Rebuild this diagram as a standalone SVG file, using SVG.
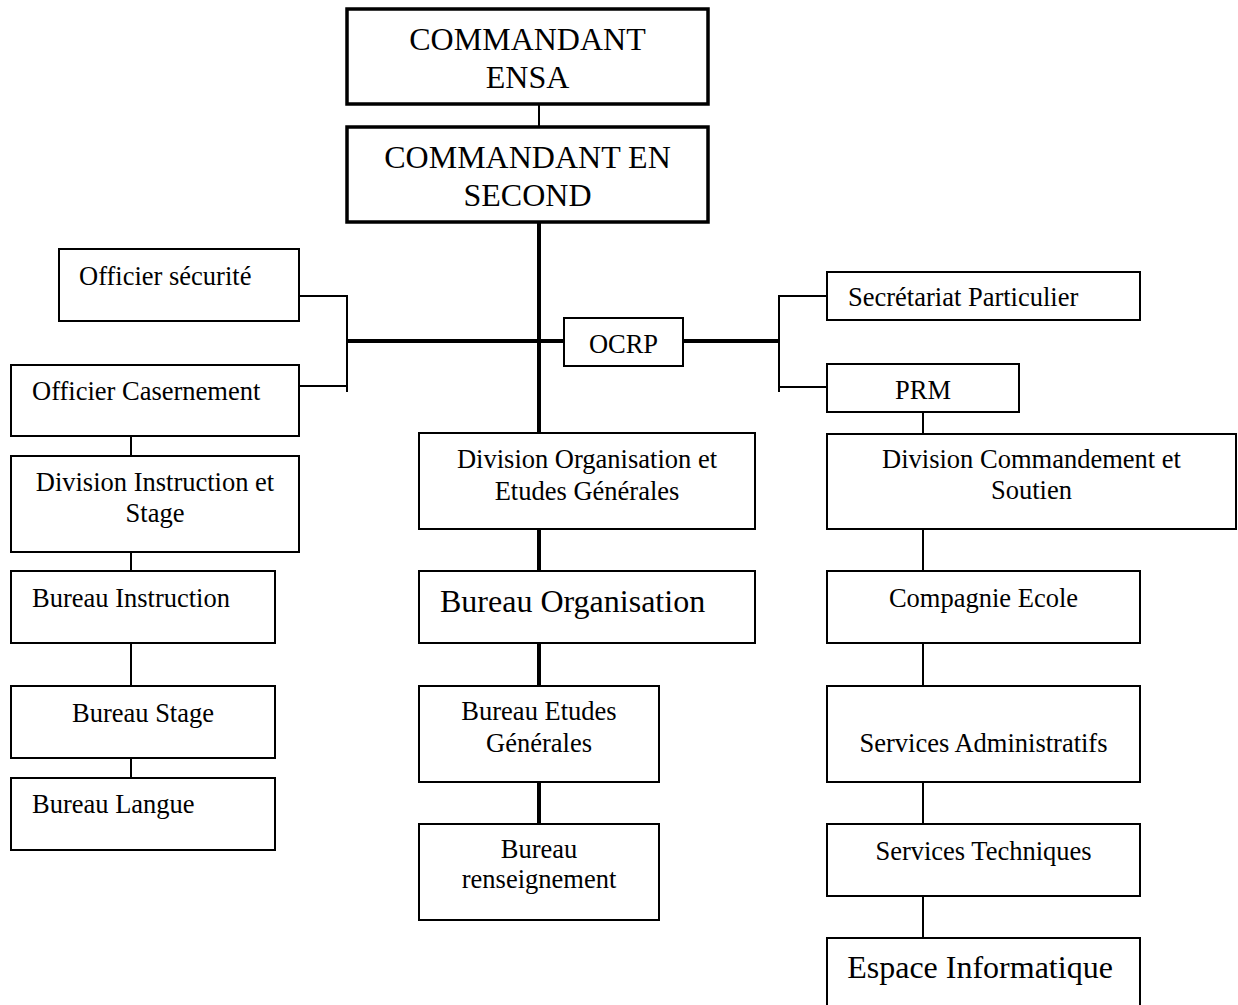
<svg xmlns="http://www.w3.org/2000/svg" width="1238" height="1005" viewBox="0 0 1238 1005">
<style>
rect{fill:#fff;stroke:#000;stroke-width:2}
rect.top{stroke-width:3.5}
text{font-family:'Liberation Serif',Tinos,'Times New Roman',Times,'DejaVu Serif',serif;font-size:26.5px;fill:#000}
text.big{font-size:32px}
.c{text-anchor:middle}
.thin{stroke:#000;stroke-width:2;fill:none}
.thick{stroke:#000;stroke-width:4;fill:none}
</style>
<rect x="0" y="0" width="1238" height="1005" style="fill:#fff;stroke:none"/>
<g id="connectors">
<path class="thin" d="M539,104V127"/>
<path class="thick" d="M539,222V433M347,341H564M683,341H779M539,529V571M539,643V686M539,782V824"/>
<path class="thin" d="M299,296H347V392M299,386H347"/>
<path class="thin" d="M827,296H779V392M779,387H827"/>
<path class="thin" d="M923,410V434"/>
<path class="thin" d="M131,433V456M131,549V571M131,640V686M131,755V778"/>
<path class="thin" d="M923,524V571M923,640V688M923,779V825M923,868V941"/>
</g>
<g id="n-commandant">
<rect class="top" x="347" y="9" width="361" height="95"/>
<text class="big c" x="527.5" y="50" font-family="Liberation Serif">COMMANDANT</text>
<text class="big c" x="527.5" y="88">ENSA</text>
</g>
<g id="n-second">
<rect class="top" x="347" y="127" width="361" height="95"/>
<text class="big c" x="527.5" y="168">COMMANDANT EN</text>
<text class="big c" x="527.5" y="206">SECOND</text>
</g>
<g id="n-securite">
<rect x="59" y="249" width="240" height="72"/>
<text x="79" y="285">Officier sécurité</text>
</g>
<g id="n-casernement">
<rect x="11" y="365" width="288" height="71"/>
<text x="32" y="400">Officier Casernement</text>
</g>
<g id="n-ocrp">
<rect x="564" y="318" width="119" height="48"/>
<text class="c" x="623.5" y="353">OCRP</text>
</g>
<g id="n-secretariat">
<rect x="827" y="272" width="313" height="48"/>
<text x="848" y="306">Secrétariat Particulier</text>
</g>
<g id="n-prm">
<rect x="827" y="364" width="192" height="48"/>
<text class="c" x="923" y="399">PRM</text>
</g>
<g id="n-div-instruction">
<rect x="11" y="456" width="288" height="96"/>
<text class="c" x="155" y="491">Division Instruction et</text>
<text class="c" x="155" y="522">Stage</text>
</g>
<g id="n-bureau-instruction">
<rect x="11" y="571" width="264" height="72"/>
<text x="32" y="607">Bureau Instruction</text>
</g>
<g id="n-bureau-stage">
<rect x="11" y="686" width="264" height="72"/>
<text class="c" x="143" y="722">Bureau Stage</text>
</g>
<g id="n-bureau-langue">
<rect x="11" y="778" width="264" height="72"/>
<text x="32" y="813">Bureau Langue</text>
</g>
<g id="n-div-organisation">
<rect x="419" y="433" width="336" height="96"/>
<text class="c" x="587" y="468">Division Organisation et</text>
<text class="c" x="587" y="500">Etudes Générales</text>
</g>
<g id="n-bureau-organisation">
<rect x="419" y="571" width="336" height="72"/>
<text class="big" x="440" y="612">Bureau Organisation</text>
</g>
<g id="n-bureau-etudes">
<rect x="419" y="686" width="240" height="96"/>
<text class="c" x="539" y="720">Bureau Etudes</text>
<text class="c" x="539" y="752">Générales</text>
</g>
<g id="n-bureau-renseignement">
<rect x="419" y="824" width="240" height="96"/>
<text class="c" x="539" y="858">Bureau</text>
<text class="c" x="539" y="888">renseignement</text>
</g>
<g id="n-div-commandement">
<rect x="827" y="434" width="409" height="95"/>
<text class="c" x="1031.5" y="468">Division Commandement et</text>
<text class="c" x="1031.5" y="499">Soutien</text>
</g>
<g id="n-compagnie">
<rect x="827" y="571" width="313" height="72"/>
<text class="c" x="983.5" y="607">Compagnie Ecole</text>
</g>
<g id="n-services-admin">
<rect x="827" y="686" width="313" height="96"/>
<text class="c" x="983.5" y="752">Services Administratifs</text>
</g>
<g id="n-services-tech">
<rect x="827" y="824" width="313" height="72"/>
<text class="c" x="983.5" y="860">Services Techniques</text>
</g>
<g id="n-espace">
<rect x="827" y="938" width="313" height="80"/>
<text class="big c" x="980" y="978">Espace Informatique</text>
</g>
</svg>
